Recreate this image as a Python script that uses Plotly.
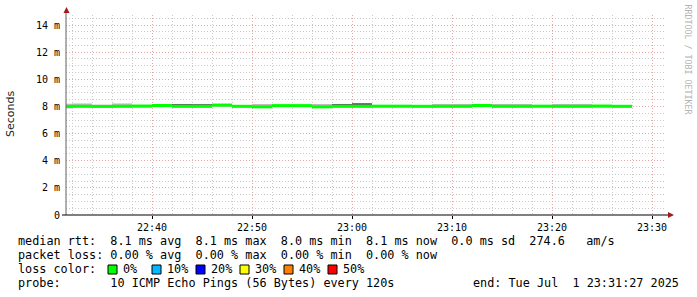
import pandas as pd
import plotly.graph_objects as go

# ---------------- data ----------------
# interval end times (2-minute steps, rrdtool semantics: value covers the 2 min before)
interval_end = pd.date_range("2025-07-01 22:32:00", "2025-07-01 23:28:00", freq="2min")

median_ms = [8.00, 8.01, 8.00, 8.01, 8.03, 8.07, 8.01, 8.01, 8.10, 8.01,
             7.97, 8.06, 8.06, 7.97, 8.01, 8.01, 8.02, 8.02, 8.01, 8.01,
             8.01, 8.07, 8.01, 8.01, 8.02, 8.01, 8.01, 8.03, 8.01]
smoke_lo_ms = [7.85, 7.92, 7.92, 7.92, 7.92, 7.95, 7.92, 7.92, 7.98, 7.92,
               7.90, 7.95, 7.95, 7.90, 7.92, 7.92, 7.92, 7.92, 7.92, 7.92,
               7.92, 7.95, 7.92, 7.92, 7.92, 7.92, 7.92, 7.92, 7.92]
smoke_hi_ms = [8.20, 8.22, 8.13, 8.22, 8.10, 8.12, 8.18, 8.18, 8.15, 8.10,
               8.18, 8.12, 8.12, 8.18, 8.18, 8.25, 8.10, 8.10, 8.10, 8.18,
               8.18, 8.12, 8.18, 8.18, 8.10, 8.18, 8.18, 8.10, 8.10]
smoke_dark_hi_ms = [None, None, None, None, None, None, 8.18, 8.17, None, None,
                    None, None, None, None, 8.18, 8.24, None, None, None, None,
                    None, None, None, None, None, None, None, None, None]

y_tick_vals = [0, 2, 4, 6, 8, 10, 12, 14]
y_tick_text = ["0", "2 m", "4 m", "6 m", "8 m", "10 m", "12 m", "14 m"]

stats_lines = [
    "median rtt:  8.1 ms avg  8.1 ms max  8.0 ms min  8.1 ms now  0.0 ms sd  274.6   am/s",
    "packet loss: 0.00 % avg  0.00 % max  0.00 % min  0.00 % now",
]
loss_labels = ["0%", "10%", "20%", "30%", "40%", "50%"]
loss_colors = ["#00ff00", "#00b8ff", "#0000ff", "#ffff00", "#ff8000", "#ff0000"]
probe_text = "probe:       10 ICMP Echo Pings (56 Bytes) every 120s"
end_text = "end: Tue Jul  1 23:31:27 2025"

x_start = "2025-07-01 22:31:24"
x_end = "2025-07-01 23:31:24"
y_max = 14.737

# ---------------- layout constants ----------------
W, H = 697, 297
L, R, T, B = 66, 31, 15, 82
PW, PH = W - L - R, H - T - B
STEP_MS = 120000
MONO = "DejaVu Sans Mono"
BAND = 0.221 / 2  # half-thickness of median band (ms) ~ 3px
GRID_MINOR = "#cacaca"
GRID_MAJOR = "#e2a6a6"
DASH = "1px,2px"


def px(x):
    return (x - L) / PW


def py(y):
    return (T + PH - y) / PH


def nb(s):
    return s.replace(" ", "\u00a0")


fig = go.Figure()

fig.add_trace(go.Bar(
    x=interval_end, base=smoke_lo_ms,
    y=[h - l for h, l in zip(smoke_hi_ms, smoke_lo_ms)],
    width=STEP_MS, offset=-STEP_MS,
    marker=dict(color="#bdbdbd", line=dict(width=0)),
    hoverinfo="skip", showlegend=False))

fig.add_trace(go.Bar(
    x=interval_end, base=median_ms,
    y=[(h - m) if h is not None else None for h, m in zip(smoke_dark_hi_ms, median_ms)],
    width=STEP_MS, offset=-STEP_MS,
    marker=dict(color="#666666", line=dict(width=0)),
    hoverinfo="skip", showlegend=False))

fig.add_trace(go.Bar(
    x=interval_end, base=[m - BAND for m in median_ms],
    y=[2 * BAND] * len(median_ms),
    width=STEP_MS, offset=-STEP_MS,
    marker=dict(color="#00ff00", line=dict(width=0)),
    hoverinfo="skip", showlegend=False))

shapes = []
# axis lines
shapes.append(dict(type="line", xref="paper", yref="paper", x0=0, x1=0,
                   y0=0, y1=py(12), line=dict(color="#606060", width=1), layer="above"))
shapes.append(dict(type="line", xref="paper", yref="paper", x0=px(62), x1=px(670),
                   y0=0, y1=0, line=dict(color="#000000", width=1), layer="above"))
# arrows
shapes.append(dict(type="path", xref="paper", yref="paper", xsizemode="pixel", ysizemode="pixel",
                   xanchor=0, yanchor=1, path="M-2.5,2 L3.5,2 L0.5,8 Z",
                   fillcolor="#a01c1c", line=dict(width=0), layer="above"))
shapes.append(dict(type="path", xref="paper", yref="paper", xsizemode="pixel", ysizemode="pixel",
                   xanchor=1, yanchor=0, path="M2,3 L2,-3 L8,0 Z",
                   fillcolor="#a01c1c", line=dict(width=0), layer="above"))

annotations = []
font_txt = dict(family=MONO, size=11.8, color="#000000")
row_y = [241, 255, 269, 283]
for i, line in enumerate(stats_lines):
    annotations.append(dict(xref="paper", yref="paper", x=px(16), y=py(row_y[i]),
                            xanchor="left", yanchor="middle", showarrow=False,
                            text=nb(line), font=font_txt))
annotations.append(dict(xref="paper", yref="paper", x=px(16), y=py(row_y[2]),
                        xanchor="left", yanchor="middle", showarrow=False,
                        text=nb("loss color:"), font=font_txt))
for i, (lab, col) in enumerate(zip(loss_labels, loss_colors)):
    bx = 108 + 44 * i
    shapes.append(dict(type="rect", xref="paper", yref="paper",
                       x0=px(bx), x1=px(bx + 9), y0=py(274), y1=py(265),
                       fillcolor=col, line=dict(color="#000000", width=1)))
    annotations.append(dict(xref="paper", yref="paper", x=px(bx + 13), y=py(row_y[2]),
                            xanchor="left", yanchor="middle", showarrow=False,
                            text=nb(lab), font=font_txt))
annotations.append(dict(xref="paper", yref="paper", x=px(16), y=py(row_y[3]),
                        xanchor="left", yanchor="middle", showarrow=False,
                        text=nb(probe_text), font=font_txt))
annotations.append(dict(xref="paper", yref="paper", x=px(681), y=py(row_y[3]),
                        xanchor="right", yanchor="middle", showarrow=False,
                        text=nb(end_text), font=font_txt))
annotations.append(dict(xref="paper", yref="paper", x=px(10), y=py(114),
                        xanchor="center", yanchor="middle", showarrow=False,
                        textangle=-90, text="Seconds",
                        font=dict(family="DejaVu Sans", size=11, color="#222222")))
annotations.append(dict(xref="paper", yref="paper", x=px(687.5), y=py(59),
                        xanchor="center", yanchor="middle", showarrow=False,
                        textangle=90, text=nb("RRDTOOL / TOBI OETIKER"),
                        font=dict(family=MONO, size=8.3, color="#b4b4b4")))

fig.update_layout(
    width=W, height=H,
    margin=dict(l=L, r=R, t=T, b=B, pad=0),
    paper_bgcolor="#ffffff", plot_bgcolor="#ffffff",
    barmode="overlay", showlegend=False,
    shapes=shapes, annotations=annotations,
    xaxis=dict(
        type="date", range=[x_start, x_end],
        tickmode="linear", tick0="2025-07-01 22:40:00", dtick=600000,
        tickformat="%H:%M", ticks="outside", ticklen=3, tickcolor="#000000",
        tickfont=dict(family=MONO, size=10, color="#000000"),
        showgrid=True, gridcolor=GRID_MAJOR, griddash=DASH, gridwidth=1,
        minor=dict(tick0="2025-07-01 22:32:00", dtick=120000, showgrid=True,
                   gridcolor=GRID_MINOR, griddash=DASH, gridwidth=1, ticks=""),
        showline=False, zeroline=False, fixedrange=True,
    ),
    yaxis=dict(
        range=[0, y_max], tickmode="array", tickvals=y_tick_vals, ticktext=y_tick_text,
        ticks="outside", ticklen=3, tickcolor="rgba(0,0,0,0)",
        tickfont=dict(family=MONO, size=10, color="#000000"),
        showgrid=True, gridcolor=GRID_MAJOR, griddash=DASH, gridwidth=1,
        minor=dict(dtick=0.5, tick0=0, showgrid=True, gridcolor=GRID_MINOR,
                   griddash=DASH, gridwidth=1, ticks=""),
        showline=False, zeroline=False, fixedrange=True,
    ),
)

fig.write_html("out.html")
